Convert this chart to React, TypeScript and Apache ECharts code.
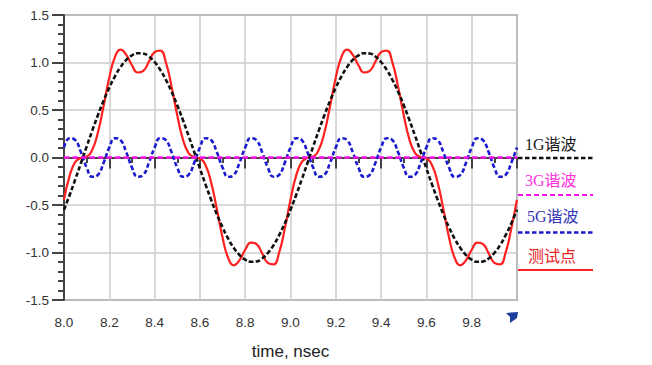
import React, { useEffect, useRef } from "react";
import * as echarts from "echarts";

const times = [
  8, 8.025, 8.05, 8.075, 8.1, 8.125, 8.15, 8.175, 8.2, 8.225, 8.25, 8.275, 8.3, 8.325, 8.35, 8.375, 8.4, 8.425, 8.45, 8.475,
  8.5, 8.525, 8.55, 8.575, 8.6, 8.625, 8.65, 8.675, 8.7, 8.725, 8.75, 8.775, 8.8, 8.825, 8.85, 8.875, 8.9, 8.925, 8.95, 8.975,
  9, 9.025, 9.05, 9.075, 9.1, 9.125, 9.15, 9.175, 9.2, 9.225, 9.25, 9.275, 9.3, 9.325, 9.35, 9.375, 9.4, 9.425, 9.45, 9.475,
  9.5, 9.525, 9.55, 9.575, 9.6, 9.625, 9.65, 9.675, 9.7, 9.725, 9.75, 9.775, 9.8, 9.825, 9.85, 9.875, 9.9, 9.925, 9.95, 9.975,
  10,
];

// 1G谐波 (black dotted)
const harmonic1G = [
  -0.55, -0.394, -0.229, -0.058, 0.115, 0.285, 0.447, 0.599, 0.736, 0.855, 0.953, 1.027, 1.076, 1.098, 1.094, 1.063, 1.005, 0.923, 0.817, 0.692,
  0.55, 0.394, 0.229, 0.058, -0.115, -0.285, -0.447, -0.599, -0.736, -0.855, -0.953, -1.027, -1.076, -1.098, -1.094, -1.063, -1.005, -0.923, -0.817, -0.692,
  -0.55, -0.394, -0.229, -0.058, 0.115, 0.285, 0.447, 0.599, 0.736, 0.855, 0.953, 1.027, 1.076, 1.098, 1.094, 1.063, 1.005, 0.923, 0.817, 0.692,
  0.55, 0.394, 0.229, 0.058, -0.115, -0.285, -0.447, -0.599, -0.736, -0.855, -0.953, -1.027, -1.076, -1.098, -1.094, -1.063, -1.005, -0.923, -0.817, -0.692,
  -0.55,
];

// 3G谐波 (magenta dashed, flat)
const harmonic3G = [
  0, 0, 0, 0, 0, 0, 0, 0, 0, 0, 0, 0, 0, 0, 0, 0, 0, 0, 0, 0,
  0, 0, 0, 0, 0, 0, 0, 0, 0, 0, 0, 0, 0, 0, 0, 0, 0, 0, 0, 0,
  0, 0, 0, 0, 0, 0, 0, 0, 0, 0, 0, 0, 0, 0, 0, 0, 0, 0, 0, 0,
  0, 0, 0, 0, 0, 0, 0, 0, 0, 0, 0, 0, 0, 0, 0, 0, 0, 0, 0, 0,
  0,
];

// 5G谐波 (blue dotted)
const harmonic5G = [
  0.105, 0.203, 0.182, 0.054, -0.105, -0.203, -0.182, -0.054, 0.105, 0.203, 0.182, 0.054, -0.105, -0.203, -0.182, -0.054, 0.105, 0.203, 0.182, 0.054,
  -0.105, -0.203, -0.182, -0.054, 0.105, 0.203, 0.182, 0.054, -0.105, -0.203, -0.182, -0.054, 0.105, 0.203, 0.182, 0.054, -0.105, -0.203, -0.182, -0.054,
  0.105, 0.203, 0.182, 0.054, -0.105, -0.203, -0.182, -0.054, 0.105, 0.203, 0.182, 0.054, -0.105, -0.203, -0.182, -0.054, 0.105, 0.203, 0.182, 0.054,
  -0.105, -0.203, -0.182, -0.054, 0.105, 0.203, 0.182, 0.054, -0.105, -0.203, -0.182, -0.054, 0.105, 0.203, 0.182, 0.054, -0.105, -0.203, -0.182, -0.054,
  0.105,
];

// 测试点 (red solid)
const testPoint = [
  -0.445, -0.191, -0.047, -0.004, 0.01, 0.082, 0.265, 0.545, 0.841, 1.058, 1.135, 1.081, 0.971, 0.895, 0.912, 1.009, 1.11, 1.126, 0.999, 0.746,
  0.445, 0.191, 0.047, 0.004, -0.01, -0.082, -0.265, -0.545, -0.841, -1.058, -1.135, -1.081, -0.971, -0.895, -0.912, -1.009, -1.11, -1.126, -0.999, -0.746,
  -0.445, -0.191, -0.047, -0.004, 0.01, 0.082, 0.265, 0.545, 0.841, 1.058, 1.135, 1.081, 0.971, 0.895, 0.912, 1.009, 1.11, 1.126, 0.999, 0.746,
  0.445, 0.191, 0.047, 0.004, -0.01, -0.082, -0.265, -0.545, -0.841, -1.058, -1.135, -1.081, -0.971, -0.895, -0.912, -1.009, -1.11, -1.126, -0.999, -0.746,
  -0.445,
];

const legendItems = [
  { name: "1G谐波", text: "#1a1a1a", line: "#111111", dash: [4.5, 2.5] as any, width: 2.4 },
  { name: "3G谐波", text: "#ff33dd", line: "#ff11ee", dash: [5, 3] as any, width: 2.2 },
  { name: "5G谐波", text: "#3434b4", line: "#1a1ad0", dash: [4.5, 2.5] as any, width: 2.4 },
  { name: "测试点", text: "#e82020", line: "#ff2020", dash: null as any, width: 2.2 },
];

const zip = (ys: number[]) => times.map((t, i) => [t, ys[i]]);

export default function App() {
  const ref = useRef<HTMLDivElement>(null);
  useEffect(() => {
    if (!ref.current) return;
    const chart = echarts.init(ref.current, undefined, { renderer: "svg" });
    const legendTextY = [144, 180, 216, 256];
    const legendLineY = [158, 195, 232.5, 270];
    const legendTextX = [525, 525, 527, 528];
    const graphics: any[] = [];
    legendItems.forEach((it, i) => {
      graphics.push({
        type: "text",
        x: legendTextX[i],
        y: legendTextY[i],
        style: {
          text: it.name,
          fill: it.text,
          font: "16px 'Liberation Serif', 'DejaVu Serif', 'Noto Sans CJK SC', serif",
          verticalAlign: "middle",
          align: "left",
        },
      });
      graphics.push({
        type: "line",
        shape: { x1: 518, y1: legendLineY[i], x2: 593, y2: legendLineY[i] },
        style: { stroke: it.line, lineWidth: it.width, lineDash: it.dash || undefined },
      });
    });
    graphics.push({
      type: "polygon",
      shape: { points: [[506, 313], [518, 312], [517, 318], [510, 323], [510, 317]] },
      style: { fill: "#1d3f9e" },
    });

    const lineSeries = (name: string, ys: number[], color: string, width: number, dash: any, z: number) => ({
      name,
      type: "line",
      data: zip(ys),
      smooth: true,
      showSymbol: false,
      symbol: "none",
      lineStyle: { color, width, type: dash || "solid" },
      z,
    });

    chart.setOption({
      animation: false,
      backgroundColor: "#ffffff",
      grid: {
        left: 64,
        right: 135,
        top: 15,
        bottom: 63,
        show: true,
        borderColor: "#666",
        borderWidth: 1.5,
      },
      xAxis: {
        type: "value",
        min: 8,
        max: 10,
        interval: 0.2,
        name: "time, nsec",
        nameLocation: "middle",
        nameGap: 43,
        nameTextStyle: { fontSize: 17, color: "#222", fontFamily: "'Liberation Sans', Arial, sans-serif" },
        axisLine: { show: true, lineStyle: { color: "#444", width: 2 } },
        axisTick: { show: true, length: 11, lineStyle: { color: "#444", width: 2 } },
        minorTick: { show: true, splitNumber: 2, length: 5.5, lineStyle: { color: "#444", width: 2 } },
        axisLabel: {
          color: "#333",
          fontSize: 13.5,
          margin: 15,
          fontFamily: "'Liberation Sans', Arial, sans-serif",
          formatter: (v: number) => (v >= 9.99 ? "" : v.toFixed(1)),
        },
        splitLine: { show: true, lineStyle: { color: "#cccccc", width: 1.5 } },
      },
      yAxis: {
        type: "value",
        min: -1.5,
        max: 1.5,
        interval: 0.5,
        axisLine: { show: true, lineStyle: { color: "#444", width: 2 } },
        axisTick: { show: true, length: 12, lineStyle: { color: "#444", width: 2 } },
        minorTick: { show: true, splitNumber: 5, length: 6, lineStyle: { color: "#444", width: 2 } },
        axisLabel: {
          color: "#333",
          fontSize: 13.5,
          margin: 15,
          fontFamily: "'Liberation Sans', Arial, sans-serif",
          formatter: (v: number) => v.toFixed(1),
        },
        splitLine: { show: true, lineStyle: { color: "#cccccc", width: 1.5 } },
      },
      series: [
        lineSeries("测试点", testPoint, "#ff2020", 2.2, null, 3),
        lineSeries("5G谐波", harmonic5G, "#1a1ad0", 2.6, [4.5, 2.5], 4),
        lineSeries("1G谐波", harmonic1G, "#111111", 2.6, [4.5, 2.5], 5),
        lineSeries("3G谐波", harmonic3G, "#ff11ee", 2.4, [5.5, 3], 6),
      ],
      graphic: graphics,
    });
    return () => chart.dispose();
  }, []);
  return (
    <div
      ref={ref}
      style={{ position: "absolute", left: 0, top: 0, width: 652, height: 365, background: "#fff" }}
    />
  );
}
